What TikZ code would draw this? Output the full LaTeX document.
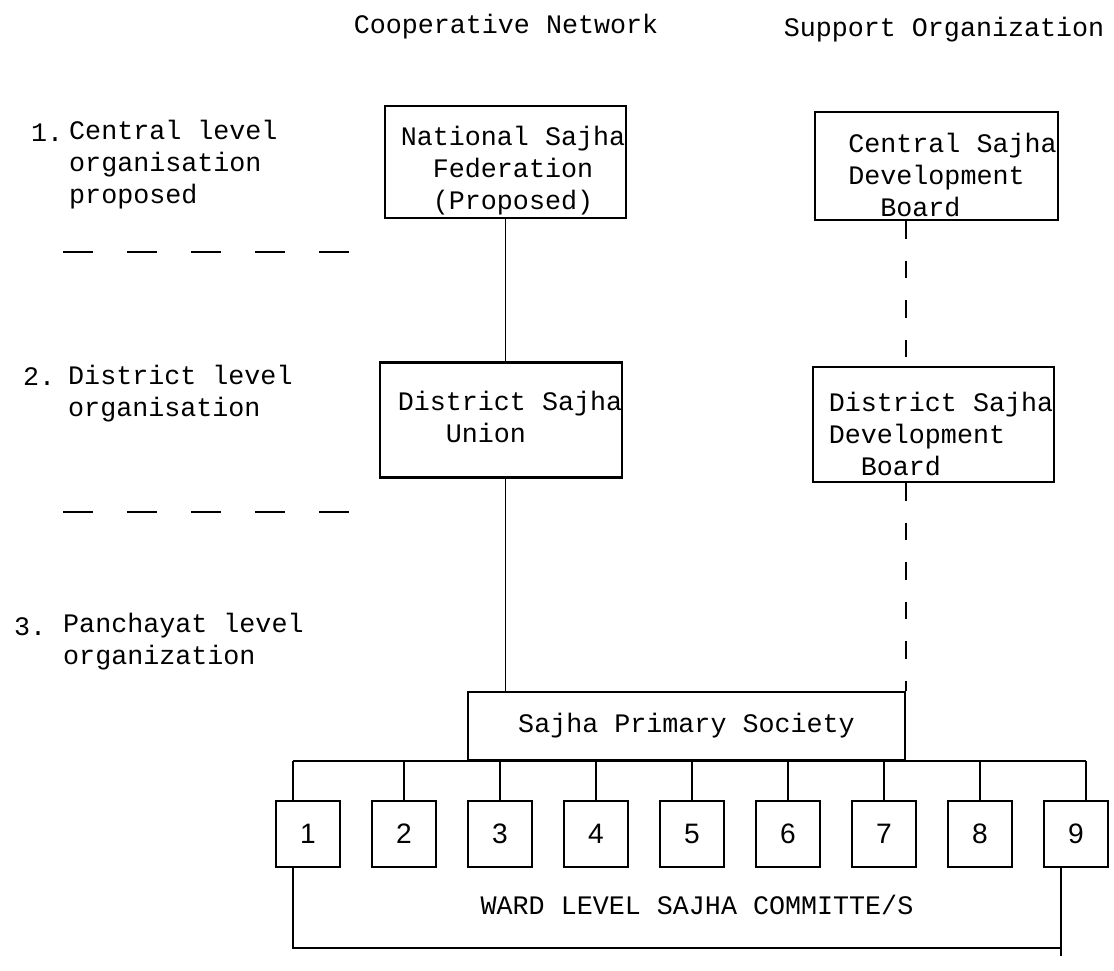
\documentclass[tikz,border=0pt]{standalone}
\usepackage{fontspec}
\setmonofont{Liberation Mono}
\newfontfamily\wardfont{Liberation Sans}
\newcommand{\scanfont}{\ttfamily\fontsize{15.2}{18.2}\selectfont}
\begin{document}
\begin{tikzpicture}[x=0.02cm, y=-0.02cm, font=\scanfont]
\tikzstyle{box} = [draw, line width=1.3pt, inner sep=0pt]
\tikzstyle{ward} = [draw, line width=1.3pt, minimum width=1.28cm, minimum height=1.32cm, inner sep=0pt, font=\wardfont\fontsize{16}{18}\selectfont]
\tikzstyle{link} = [line width=1pt]
\tikzstyle{supportlink} = [line width=1pt, dash pattern=on 10pt off 12.5pt]
\tikzstyle{levelsep} = [line width=1.2pt, dash pattern=on 17pt off 19.4pt]

\useasboundingbox (0,0) rectangle (1114,970);

% column heads
\node (coop) at (506,27) {Cooperative Network};
\node (supp) at (944,30) {Support Organization};

% levels on the left
\node[anchor=west] (num1) at (25,133) {1.};
\node[anchor=west, align=left] (lvl1) at (63,165) {Central level\\organisation\\proposed};
\draw[levelsep] (63,252) -- (349,252);
\node[anchor=west] (num2) at (17,377) {2.};
\node[anchor=west, align=left] (lvl2) at (62,394) {District level\\organisation};
\draw[levelsep] (63,512) -- (349,512);
\node[anchor=west] (num3) at (8,627) {3.};
\node[anchor=west, align=left] (lvl3) at (57,642) {Panchayat level\\organization};

% cooperative network
\node[box, minimum width=4.82cm, minimum height=2.24cm] (nsf) at (505.5,162)
  {\hspace*{0.3cm}\raisebox{-0.18cm}[\height][\depth]{\begin{tabular}{@{}c@{}}National Sajha\\Federation\\(Proposed)\end{tabular}}};
\node[box, minimum width=4.84cm, minimum height=2.3cm] (dsu) at (501,420)
  {\hspace*{0.36cm}\begin{tabular}{@{}l@{}}District Sajha\\\phantom{Dis}Union\end{tabular}};
\node[box, minimum width=8.74cm, minimum height=1.36cm] (sps) at (686.5,726) {Sajha Primary Society};

% support organization
\node[box, minimum width=4.86cm, minimum height=2.16cm] (csdb) at (936.5,166)
  {\hspace*{0.64cm}\raisebox{-0.24cm}[\height][\depth]{\begin{tabular}{@{}l@{}}Central Sajha\\Development\\\phantom{De}Board\end{tabular}}};
\node[box, minimum width=4.82cm, minimum height=2.3cm] (dsdb) at (933.5,424.5)
  {\hspace*{0.3cm}\raisebox{-0.26cm}[\height][\depth]{\begin{tabular}{@{}l@{}}District Sajha\\Development\\\phantom{De}Board\end{tabular}}};

\draw[link] (nsf.south) -- (nsf.south |- dsu.north);
\draw[link] (nsf.south |- dsu.south) -- (nsf.south |- sps.north);
\draw[supportlink] (sps.north east |- csdb.south) -- (sps.north east |- dsdb.north);
\draw[supportlink] (sps.north east |- dsdb.south) -- (sps.north east);

% ward committees
\foreach \i in {1,...,9}
  \node[ward] (w\i) at ({308+96*(\i-1)},834) {\i};
\coordinate (t1) at ([xshift=-0.3cm]w1.north);
\coordinate (t9) at ([xshift=0.2cm]w9.north);
\draw[link] (t1 |- sps.south) -- (t9 |- sps.south);
\draw[link] (t1 |- sps.south) -- (t1);
\foreach \i in {2,...,8}
  \draw[link] (w\i.north) -- (w\i.north |- sps.south);
\draw[link] (t9 |- sps.south) -- (t9);

\node (wardtext) at (697,905) {WARD LEVEL SAJHA COMMITTE/S};
\coordinate (b1) at ([xshift=-0.3cm]w1.south);
\coordinate (b9) at ([xshift=-0.3cm]w9.south);
\coordinate (base) at (0,948);
\draw[link] (b1) -- (b1 |- base) -- (b9 |- base);
\draw[link] (b9) -- ([yshift=-0.16cm]b9 |- base);
\end{tikzpicture}
\end{document}
